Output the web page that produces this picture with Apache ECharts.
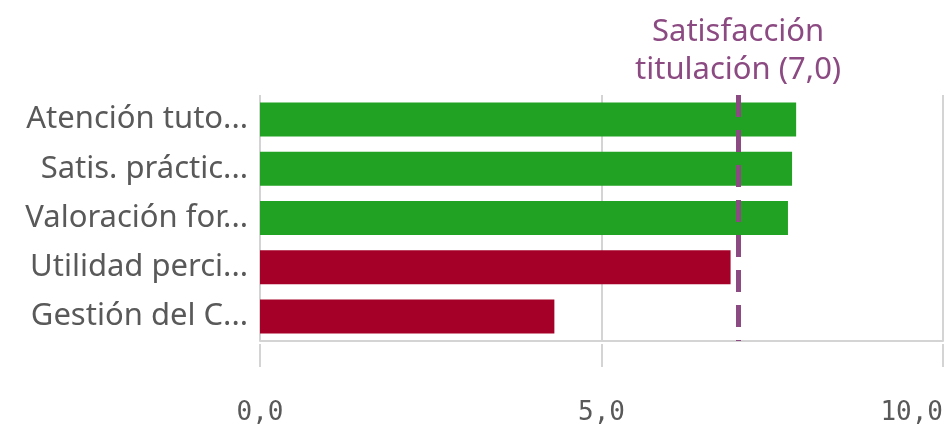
<!DOCTYPE html>
<html>
<head>
<meta charset="utf-8">
<script src="https://cdn.jsdelivr.net/npm/echarts@6/dist/echarts.min.js"></script>
<style>
  html, body { margin: 0; padding: 0; background: #fff; }
  #chart { width: 947px; height: 430px; }
</style>
</head>
<body>
<div id="chart"></div>
<script>
// Survey indicators (truncated as shown on the axis) and their scores
const categories = [
  'Atención tuto...',
  'Satis. práctic...',
  'Valoración for...',
  'Utilidad perci...',
  'Gestión del C...'
];
const scores = [7.85, 7.79, 7.73, 6.89, 4.31];

// Reference value for the whole degree
const targetValue = 7.0;
const targetLabel = 'Satisfacción\ntitulación (7,0)';

// Value axis ticks
const axisMin = 0;
const axisMax = 10;
const axisStep = 5;

const GREEN = '#21a222';
const RED = '#a50027';
const PURPLE = '#8c4a82';
const GRID_GREY = '#d4d4d4';
const TEXT_GREY = '#595959';

const chart = echarts.init(document.getElementById('chart'));

const valueAxisBase = {
  type: 'value',
  min: axisMin,
  max: axisMax,
  interval: axisStep
};

chart.setOption({
  animation: false,
  grid: { left: 260, right: 4, top: 95, bottom: 89, containLabel: false },
  xAxis: [
    Object.assign({}, valueAxisBase, {
      position: 'bottom',
      axisLine: { show: true, lineStyle: { color: GRID_GREY, width: 2 } },
      axisTick: { show: false },
      axisLabel: { show: false },
      splitLine: { show: true, lineStyle: { color: GRID_GREY, width: 2 } }
    }),
    Object.assign({}, valueAxisBase, {
      position: 'bottom',
      offset: 3,
      axisLine: { show: false },
      axisTick: { show: true, length: 23, lineStyle: { color: GRID_GREY, width: 2 } },
      splitLine: { show: false },
      axisLabel: {
        show: true,
        margin: 56,
        fontFamily: 'DejaVu Sans Mono',
        fontSize: 26,
        color: TEXT_GREY,
        formatter: v => v.toFixed(1).replace('.', ','),
        alignMinLabel: 'center',
        alignMaxLabel: 'right'
      }
    })
  ],
  yAxis: {
    type: 'category',
    inverse: true,
    data: categories,
    axisLine: { show: false },
    axisTick: { show: false },
    splitLine: { show: false },
    axisLabel: {
      margin: 12,
      fontFamily: 'Noto Sans',
      fontSize: 31,
      color: TEXT_GREY
    }
  },
  series: [{
    type: 'bar',
    xAxisIndex: 0,
    barWidth: 34,
    data: scores.map(v => ({
      value: v,
      itemStyle: { color: v >= targetValue ? GREEN : RED }
    })),
    markLine: {
      silent: true,
      symbol: ['none', 'none'],
      lineStyle: { color: PURPLE, width: 5, type: [22, 13] },
      label: {
        show: true,
        position: 'start',
        formatter: targetLabel,
        fontFamily: 'Noto Sans',
        fontSize: 31,
        lineHeight: 38,
        color: PURPLE,
        distance: 6
      },
      data: [{ xAxis: targetValue }]
    }
  }]
});
</script>
</body>
</html>
